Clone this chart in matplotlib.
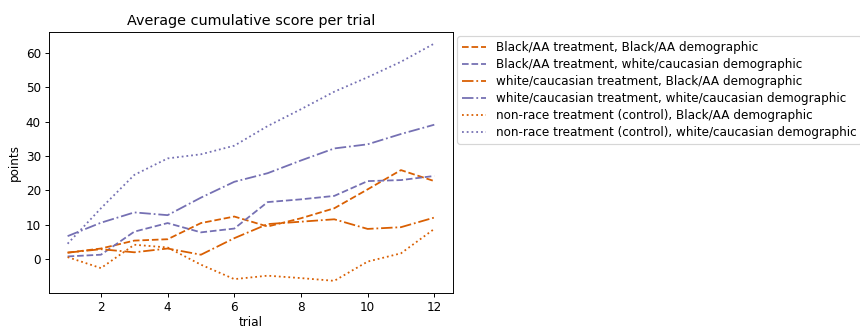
import numpy as np
import matplotlib.pyplot as plt


# ==========================================================
# Data
# ==========================================================

trials = np.arange(1, 13)

black_tr_black_dem = [1.9, 3.1, 5.4, 5.8, 10.5, 12.4, 9.5, 11.9, 14.8, 20.3, 25.9, 22.7]
black_tr_white_dem = [0.8, 1.3, 8.0, 10.5, 7.8, 8.9, 16.6, 17.4, 18.4, 22.7, 23.0, 24.2]
white_tr_black_dem = [1.9, 2.9, 2.0, 3.1, 1.3, 6.1, 10.2, 10.9, 11.6, 8.8, 9.3, 12.1]
white_tr_white_dem = [6.7, 10.6, 13.6, 12.8, 17.9, 22.5, 25.0, 28.7, 32.2, 33.4, 36.4, 39.1]
control_black_dem = [0.6, -2.6, 4.2, 3.4, -1.6, -5.8, -4.8, -5.5, -6.3, -0.7, 1.7, 8.8]
control_white_dem = [4.5, 14.8, 24.5, 29.3, 30.5, 33.0, 38.7, 43.6, 48.7, 52.9, 57.4, 62.7]

labels = [
    "Black/AA treatment, Black/AA demographic",
    "Black/AA treatment, white/caucasian demographic",
    "white/caucasian treatment, Black/AA demographic",
    "white/caucasian treatment, white/caucasian demographic",
    "non-race treatment (control), Black/AA demographic",
    "non-race treatment (control), white/caucasian demographic",
]

ORANGE = "#d95f02"
PURPLE = "#7570b3"


# ==========================================================
# Plot
# ==========================================================

def main():

    fig = plt.figure(figsize=(10, 330 / 86), dpi=86)
    ax = fig.add_axes([0.0573, 0.113, 0.469, 0.791])

    series = [
        (black_tr_black_dem, ORANGE, "--"),
        (black_tr_white_dem, PURPLE, "--"),
        (white_tr_black_dem, ORANGE, "-."),
        (white_tr_white_dem, PURPLE, "-."),
        (control_black_dem, ORANGE, ":"),
        (control_white_dem, PURPLE, ":"),
    ]

    for (values, color, style), label in zip(series, labels):
        ax.plot(trials, values, color=color, linestyle=style, label=label)

    ax.set_title("Average cumulative score per trial")
    ax.set_xlabel("trial", labelpad=2)
    ax.set_ylabel("points")

    ax.legend(loc="upper left", bbox_to_anchor=(1.0, 1.0),
              borderaxespad=0.4, labelspacing=0.33)

    fig.savefig("out.png", dpi=86)


if __name__ == "__main__":
    main()
